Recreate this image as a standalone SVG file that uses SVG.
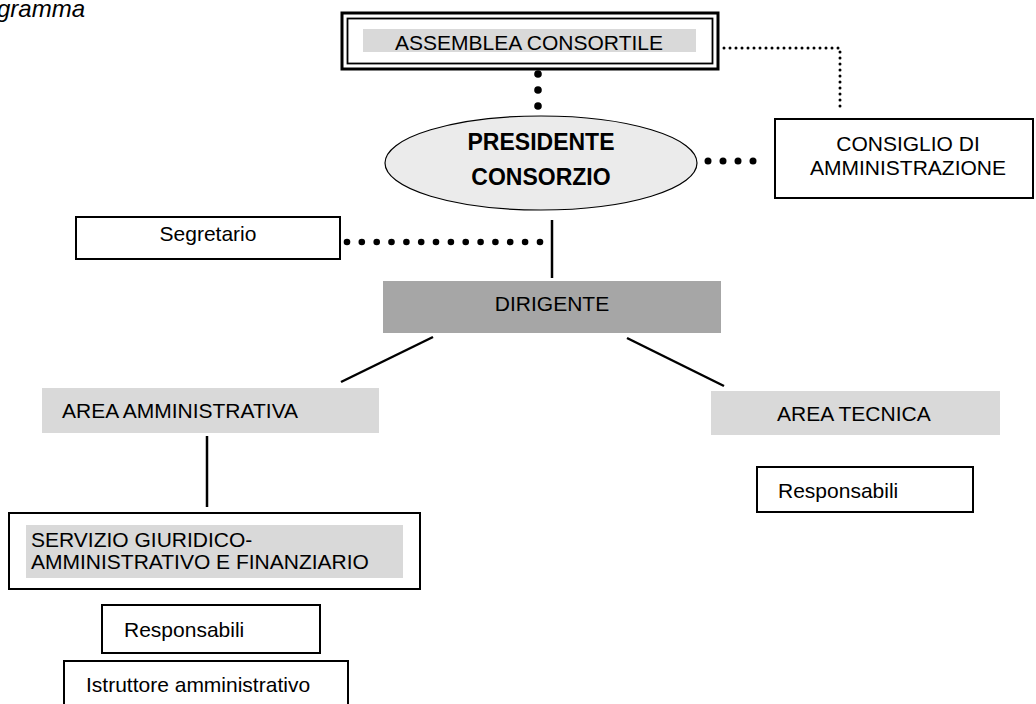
<svg xmlns="http://www.w3.org/2000/svg" width="1036" height="704" viewBox="0 0 1036 704">
<style>
text{font-family:"Liberation Sans",Arial,sans-serif;font-size:21px;fill:#000}
.c{text-anchor:middle}
.b{font-weight:bold;font-size:23px}
.box{fill:#fff;stroke:#000;stroke-width:2}
.band{fill:#d9d9d9}
.ln{stroke:#000;stroke-width:2.5;fill:none}
.dot{fill:#000}
.sd{stroke:#000;stroke-width:3;stroke-linecap:round;stroke-dasharray:0 6;fill:none}
</style>
<rect width="1036" height="704" fill="#fff"/>
<text x="-3" y="17" style="font-style:italic;font-size:24px">gramma</text>
<g id="connectors">
<path class="sd" d="M724 48 H840 V112"/>
<g class="dot">
<circle cx="538" cy="74" r="3.8"/><circle cx="538" cy="90" r="3.8"/><circle cx="538" cy="106" r="3.8"/>
<circle cx="708" cy="161" r="3.5"/><circle cx="723" cy="161" r="3.5"/><circle cx="738" cy="161" r="3.5"/><circle cx="753" cy="161" r="3.5"/>
<circle cx="347" cy="242" r="3.3"/><circle cx="361.8" cy="242" r="3.3"/><circle cx="376.7" cy="242" r="3.3"/><circle cx="391.5" cy="242" r="3.3"/><circle cx="406.4" cy="242" r="3.3"/><circle cx="421.2" cy="242" r="3.3"/><circle cx="436" cy="242" r="3.3"/><circle cx="450.9" cy="242" r="3.3"/><circle cx="465.7" cy="242" r="3.3"/><circle cx="480.6" cy="242" r="3.3"/><circle cx="495.4" cy="242" r="3.3"/><circle cx="510.2" cy="242" r="3.3"/><circle cx="525.1" cy="242" r="3.3"/><circle cx="540" cy="242" r="3.3"/>
</g>
<line class="ln" x1="552" y1="220" x2="552" y2="278"/>
<line class="ln" x1="433" y1="337" x2="341" y2="382"/>
<line class="ln" x1="627" y1="338" x2="724" y2="386"/>
<line class="ln" x1="207" y1="436" x2="207" y2="507"/>
</g>
<g id="assemblea">
<rect x="342" y="13" width="376" height="56" fill="#fff" stroke="#000" stroke-width="3"/>
<rect x="347.5" y="18.5" width="365" height="45" fill="none" stroke="#000" stroke-width="1.8"/>
<rect class="band" x="363" y="29" width="333" height="23"/>
<text class="c" x="529" y="50">ASSEMBLEA CONSORTILE</text>
</g>
<g id="presidente">
<ellipse cx="541" cy="163" rx="156" ry="47" fill="#ebebeb" stroke="#000" stroke-width="1.2"/>
<text class="c b" x="541" y="150">PRESIDENTE</text>
<text class="c b" x="541" y="185">CONSORZIO</text>
</g>
<g id="consiglio">
<rect class="box" x="775" y="119" width="258" height="79"/>
<text class="c" x="908" y="151">CONSIGLIO DI</text>
<text class="c" x="908" y="175">AMMINISTRAZIONE</text>
</g>
<g id="segretario">
<rect class="box" x="76" y="217" width="264" height="42"/>
<text class="c" x="208" y="241">Segretario</text>
</g>
<g id="dirigente">
<rect x="383" y="281" width="338" height="52" fill="#a6a6a6"/>
<text class="c" x="552" y="311">DIRIGENTE</text>
</g>
<g id="area-amministrativa">
<rect class="band" x="42" y="388" width="337" height="45"/>
<text x="62" y="418">AREA AMMINISTRATIVA</text>
</g>
<g id="area-tecnica">
<rect class="band" x="711" y="391" width="289" height="44"/>
<text x="777" y="421">AREA TECNICA</text>
</g>
<g id="responsabili-tecnica">
<rect class="box" x="757" y="467" width="216" height="45"/>
<text x="778" y="498">Responsabili</text>
</g>
<g id="servizio">
<rect class="box" x="9" y="513" width="411" height="76"/>
<rect class="band" x="26" y="525" width="377" height="53"/>
<text x="31" y="547">SERVIZIO GIURIDICO-</text>
<text x="31" y="569">AMMINISTRATIVO E FINANZIARIO</text>
</g>
<g id="responsabili-amm">
<rect class="box" x="102" y="605" width="218" height="48"/>
<text x="124" y="637">Responsabili</text>
</g>
<g id="istruttore">
<rect class="box" x="64" y="661" width="284" height="60"/>
<text x="86" y="692">Istruttore amministrativo</text>
</g>
</svg>
